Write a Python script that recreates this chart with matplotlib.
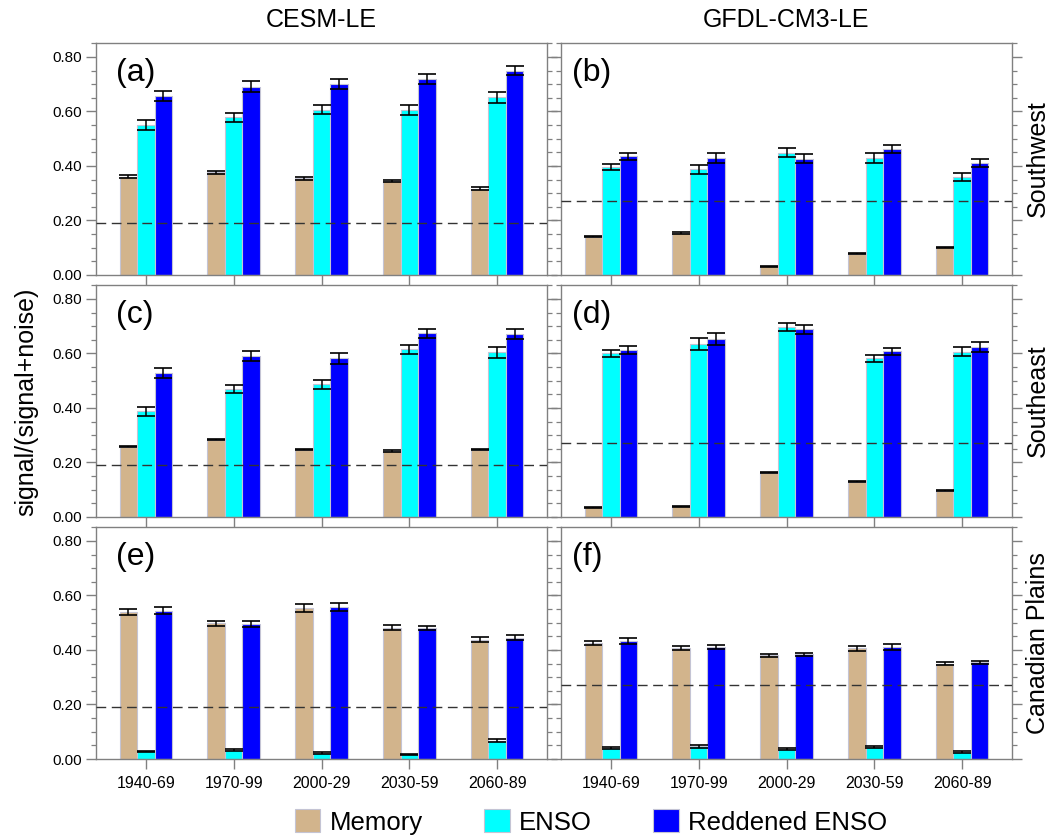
import matplotlib
matplotlib.use('Agg')
import matplotlib.pyplot as plt
from matplotlib.patches import Patch
from matplotlib.ticker import MultipleLocator, FormatStrFormatter
import numpy as np

plt.rcParams['font.family'] = ['Liberation Sans', 'DejaVu Sans']

periods = ['1940-69', '1970-99', '2000-29', '2030-59', '2060-89']
models = ['CESM-LE', 'GFDL-CM3-LE']
regions = ['Southwest', 'Southeast', 'Canadian Plains']
panel_tags = ['(a)', '(b)', '(c)', '(d)', '(e)', '(f)']
series_names = ['Memory', 'ENSO', 'Reddened ENSO']
series_colors = ['#d2b48c', '#00ffff', '#0000ff']
thresholds = [0.19, 0.27]  # dashed line per model

# rows of each list are panels a..f
memory = [
    [0.361, 0.377, 0.355, 0.346, 0.317],
    [0.140, 0.154, 0.032, 0.078, 0.102],
    [0.258, 0.284, 0.247, 0.242, 0.246],
    [0.035, 0.039, 0.162, 0.130, 0.096],
    [0.540, 0.498, 0.554, 0.482, 0.438],
    [0.426, 0.408, 0.380, 0.406, 0.350],
]
memory_err = [
    [0.006, 0.006, 0.005, 0.004, 0.004],
    [0.002, 0.002, 0.002, 0.002, 0.002],
    [0.003, 0.003, 0.002, 0.002, 0.002],
    [0.002, 0.002, 0.002, 0.002, 0.002],
    [0.012, 0.010, 0.014, 0.009, 0.010],
    [0.008, 0.007, 0.006, 0.009, 0.005],
]
enso = [
    [0.549, 0.578, 0.607, 0.605, 0.652],
    [0.396, 0.387, 0.449, 0.429, 0.358],
    [0.387, 0.470, 0.487, 0.615, 0.605],
    [0.600, 0.634, 0.697, 0.582, 0.607],
    [0.029, 0.033, 0.022, 0.017, 0.067],
    [0.040, 0.046, 0.038, 0.045, 0.026],
]
enso_err = [
    [0.018, 0.018, 0.018, 0.019, 0.021],
    [0.012, 0.017, 0.016, 0.017, 0.015],
    [0.016, 0.016, 0.016, 0.016, 0.020],
    [0.012, 0.023, 0.015, 0.012, 0.018],
    [0.002, 0.002, 0.002, 0.002, 0.005],
    [0.005, 0.004, 0.004, 0.004, 0.004],
]
reddened = [
    [0.657, 0.690, 0.701, 0.720, 0.749],
    [0.435, 0.429, 0.427, 0.462, 0.411],
    [0.529, 0.591, 0.582, 0.674, 0.671],
    [0.613, 0.653, 0.688, 0.608, 0.625],
    [0.544, 0.496, 0.558, 0.481, 0.445],
    [0.433, 0.412, 0.384, 0.411, 0.354],
]
reddened_err = [
    [0.018, 0.020, 0.018, 0.018, 0.017],
    [0.012, 0.017, 0.018, 0.016, 0.016],
    [0.018, 0.018, 0.019, 0.016, 0.019],
    [0.015, 0.023, 0.018, 0.013, 0.018],
    [0.013, 0.011, 0.015, 0.007, 0.009],
    [0.010, 0.007, 0.006, 0.010, 0.005],
]

W, H = 1064, 838
fig = plt.figure(figsize=(W / 100, H / 100), dpi=100)

col_left = [96, 561]
col_width = [451, 451]
row_top = [43, 285, 527]
row_height = 232
gray = '#808080'
x = np.arange(len(periods))
bw = 0.2

for i in range(6):
    r, c = divmod(i, 2)
    ax = fig.add_axes([col_left[c] / W, 1 - (row_top[r] + row_height) / H,
                       col_width[c] / W, row_height / H])
    data = [(memory[i], memory_err[i]), (enso[i], enso_err[i]),
            (reddened[i], reddened_err[i])]
    for k, (vals, errs) in enumerate(data):
        ax.bar(x + (k - 1) * bw, vals, width=bw, color=series_colors[k],
               edgecolor='#c4c4d4', linewidth=0.8, yerr=errs, capsize=6.5,
               error_kw=dict(ecolor='black', elinewidth=1.1, capthick=1.2),
               zorder=2)
    ax.axhline(thresholds[c], color='#333333', lw=1.0, ls=(0, (7, 4)), zorder=3)

    ax.set_xlim(-0.568, 4.568)
    ax.set_ylim(0, 0.851)
    ax.set_xticks(x)
    ax.yaxis.set_major_locator(MultipleLocator(0.2))
    ax.yaxis.set_minor_locator(MultipleLocator(0.05))
    ax.yaxis.set_major_formatter(FormatStrFormatter('%.2f'))
    for s in ax.spines.values():
        s.set_color(gray)
        s.set_linewidth(1.0)
    ax.tick_params(axis='y', which='both', direction='out', left=True, right=True,
                   color=gray, labelsize=11, labelleft=(c == 0), pad=3)
    ax.tick_params(axis='y', which='major', length=7, width=1.0)
    ax.tick_params(axis='y', which='minor', length=3.5, width=0.9)
    ax.tick_params(axis='x', direction='out', length=7, width=1.0, color=gray,
                   labelsize=11.5, labelbottom=(r == 2), pad=5)
    if r == 2:
        ax.set_xticklabels(periods)
    ax.text(0.045 if c == 0 else 0.025, 0.935, panel_tags[i], transform=ax.transAxes,
            fontsize=23, ha='left', va='top')

for c in range(2):
    fig.text((col_left[c] + col_width[c] / 2) / W, 1 - 20 / H, models[c],
             fontsize=18, ha='center', va='center')
for r in range(3):
    fig.text(1038 / W, 1 - (row_top[r] + row_height / 2) / H, regions[r],
             fontsize=18, rotation=90, ha='center', va='center')
fig.text(26 / W, 1 - 402 / H, 'signal/(signal+noise)', fontsize=18,
         rotation=90, ha='center', va='center')

handles = [Patch(facecolor=col, edgecolor='#c4c4d4', linewidth=0.8) for col in series_colors]
fig.legend(handles, series_names, loc='center', bbox_to_anchor=(591 / W, 1 - 822 / H),
           ncol=3, frameon=False, fontsize=18.5, handlelength=1.0, handleheight=1.0,
           handletextpad=0.35, columnspacing=2.4, borderpad=0)

fig.savefig('out.png', dpi=100)
